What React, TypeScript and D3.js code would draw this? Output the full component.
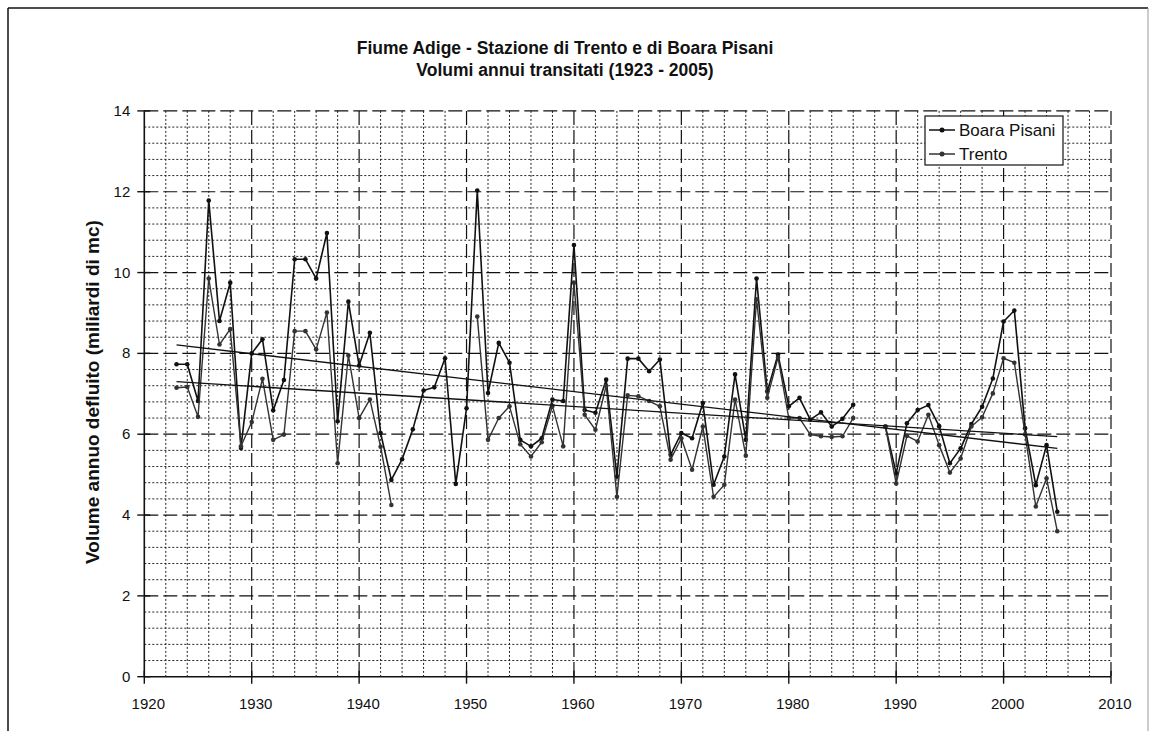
import React from 'react';
import * as d3 from 'd3';

const years: number[] = d3.range(1923, 2006);

const boaraPisani: (number | null)[] = [
  7.73, 7.73, 6.82, 11.78, 8.8, 9.75, 5.66, 8.0, 8.35, 6.59,
  7.34, 10.33, 10.33, 9.85, 10.98, 6.32, 9.28, 7.7, 8.51, 6.03,
  4.87, 5.38, 6.12, 7.08, 7.16, 7.88, 4.77, 6.64, 12.03, 7.02,
  8.26, 7.77, 5.86, 5.7, 5.9, 6.86, 6.82, 10.68, 6.6, 6.53,
  7.35, 4.95, 7.87, 7.87, 7.56, 7.85, 5.49, 6.03, 5.9, 6.77,
  4.75, 5.45, 7.48, 5.86, 9.85, 7.06, 7.97, 6.69, 6.9, 6.36,
  6.54, 6.19, 6.38, 6.73, null, null, 6.19, 5.03, 6.27, 6.6,
  6.72, 6.2, 5.28, 5.65, 6.25, 6.68, 7.38, 8.79, 9.06, 6.15,
  4.74, 5.73, 4.08,
];

const trento: (number | null)[] = [
  7.15, 7.17, 6.43, 9.85, 8.22, 8.6, 5.7, 6.3, 7.37, 5.86,
  5.99, 8.55, 8.55, 8.1, 9.01, 5.28, 7.95, 6.4, 6.86, 5.69,
  4.25, null, null, null, null, null, null, null, 8.91, 5.86,
  6.4, 6.69, 5.75, 5.45, 5.8, 6.7, 5.7, 9.75, 6.48, 6.11,
  7.2, 4.45, 6.96, 6.94, 6.82, 6.69, 5.37, 5.9, 5.12, 6.19,
  4.45, 4.75, 6.86, 5.47, 9.34, 6.9, 7.9, 6.4, 6.4, 5.99,
  5.95, 5.93, 5.95, 6.4, null, null, 6.19, 4.78, 5.96, 5.82,
  6.48, 5.73, 5.05, 5.4, 6.19, 6.42, 7.01, 7.88, 7.77, 6.0,
  4.21, 4.91, 3.6,
];

const trendYears = [1923, 2005];
const trendBoara = [8.21, 5.65];
const trendTrento = [7.3, 5.94];

const xTicks = [1920, 1930, 1940, 1950, 1960, 1970, 1980, 1990, 2000, 2010];
const yTicks = [0, 2, 4, 6, 8, 10, 12, 14];

const titleLines = [
  'Fiume Adige - Stazione di Trento e di Boara Pisani',
  'Volumi annui transitati (1923 - 2005)',
];
const yAxisTitle = 'Volume annuo defluito (miliardi di mc)';
const seriesNames = ['Boara Pisani', 'Trento'];

export default function App() {
  const W = 1150;
  const H = 731;
  const left = 144.3, right = 1111, top = 110.9, bottom = 676.7;
  const x = d3.scaleLinear().domain([1920, 2010]).range([left, right]);
  const y = d3.scaleLinear().domain([0, 14]).range([bottom, top]);

  const minorY = d3.range(0.4, 14, 0.4).filter((v) => Math.abs(v / 2 - Math.round(v / 2)) > 0.01);
  const minorX = d3.range(1922, 2010, 2).filter((v) => v % 10 !== 0);

  const mk = (vals: (number | null)[]) =>
    years.map((yr, i) => [yr, vals[i]] as [number, number | null]);

  const line = d3
    .line<[number, number | null]>()
    .defined((d) => d[1] != null)
    .x((d) => x(d[0]))
    .y((d) => y(d[1] as number));

  const series = [
    { name: seriesNames[0], data: mk(boaraPisani), color: '#111', width: 1.6 },
    { name: seriesNames[1], data: mk(trento), color: '#333', width: 1.4 },
  ];
  const trends = [trendBoara, trendTrento];

  const font = 'Arial, "Liberation Sans", Helvetica, sans-serif';

  return (
    <svg
      width={W}
      height={H}
      style={{ position: 'absolute', left: 0, top: 0, background: '#fff' }}
      fontFamily={font}
    >
      <rect x={0} y={0} width={W} height={H} fill="#fff" />
      {/* page frame */}
      <line x1={8} y1={8} x2={8} y2={H} stroke="#111" strokeWidth={1.5} />
      <line x1={8} y1={8} x2={1148} y2={8} stroke="#111" strokeWidth={1.5} />
      <line x1={1148} y1={8} x2={1148} y2={H} stroke="#999" strokeWidth={1} />

      {/* title */}
      {titleLines.map((t, i) => (
        <text key={i} x={565} y={54 + i * 22} textAnchor="middle" fontSize={17.5} fontWeight="bold" fill="#111">
          {t}
        </text>
      ))}

      {/* minor grid */}
      {minorY.map((v) => (
        <line key={'my' + v} x1={left} x2={right} y1={y(v)} y2={y(v)} stroke="#222" strokeWidth={1} strokeDasharray="2,2" />
      ))}
      {minorX.map((v) => (
        <line key={'mx' + v} x1={x(v)} x2={x(v)} y1={top} y2={bottom} stroke="#222" strokeWidth={1} strokeDasharray="2,2" />
      ))}
      {/* major grid */}
      {yTicks.filter((v) => v > 0).map((v) => (
        <line key={'gy' + v} x1={left} x2={right} y1={y(v)} y2={y(v)} stroke="#111" strokeWidth={1.2} strokeDasharray="14,5" />
      ))}
      {xTicks.filter((v) => v > 1920).map((v) => (
        <line key={'gx' + v} x1={x(v)} x2={x(v)} y1={top} y2={bottom} stroke="#111" strokeWidth={1.2} strokeDasharray="14,5" />
      ))}

      {/* axes */}
      <line x1={left} x2={left} y1={top} y2={bottom} stroke="#111" strokeWidth={1.6} />
      <line x1={left} x2={right} y1={bottom} y2={bottom} stroke="#111" strokeWidth={1.6} />
      {yTicks.map((v) => (
        <g key={'ty' + v}>
          <line x1={left - 7} x2={left + 6} y1={y(v)} y2={y(v)} stroke="#111" strokeWidth={1.4} />
          <text x={left - 14} y={y(v) + 5} textAnchor="end" fontSize={15} fill="#111">
            {v}
          </text>
        </g>
      ))}
      {xTicks.map((v) => (
        <g key={'tx' + v}>
          <line x1={x(v)} x2={x(v)} y1={bottom - 6} y2={bottom + 7} stroke="#111" strokeWidth={1.4} />
          <text x={x(v) + 4} y={bottom + 32} textAnchor="middle" fontSize={15} fill="#111">
            {v}
          </text>
        </g>
      ))}

      {/* y axis title */}
      <text
        transform={`translate(99,392) rotate(-90)`}
        textAnchor="middle"
        fontSize={19}
        fontWeight="bold"
        fill="#111"
      >
        {yAxisTitle}
      </text>

      {/* series */}
      {series.map((s) => (
        <g key={s.name}>
          <path d={line(s.data) || ''} fill="none" stroke={s.color} strokeWidth={s.width} strokeLinejoin="round" />
          {s.data
            .filter((d) => d[1] != null)
            .map((d) => (
              <circle key={d[0]} cx={x(d[0])} cy={y(d[1] as number)} r={2.3} fill={s.color} />
            ))}
        </g>
      ))}

      {/* trend lines */}
      {trends.map((t, i) => (
        <line
          key={'tr' + i}
          x1={x(trendYears[0])}
          y1={y(t[0])}
          x2={x(trendYears[1])}
          y2={y(t[1])}
          stroke="#111"
          strokeWidth={1.3}
        />
      ))}

      {/* legend */}
      <g>
        <rect x={925} y={116} width={138} height={49} fill="#fff" stroke="#111" strokeWidth={1.2} />
        {series.map((s, i) => (
          <g key={'lg' + s.name}>
            <line x1={929} x2={955} y1={130 + i * 24} y2={130 + i * 24} stroke={s.color} strokeWidth={1.5} />
            <circle cx={942} cy={130 + i * 24} r={2.5} fill={s.color} />
            <text x={959} y={136 + i * 24} fontSize={17} fill="#111">
              {s.name}
            </text>
          </g>
        ))}
      </g>
    </svg>
  );
}
